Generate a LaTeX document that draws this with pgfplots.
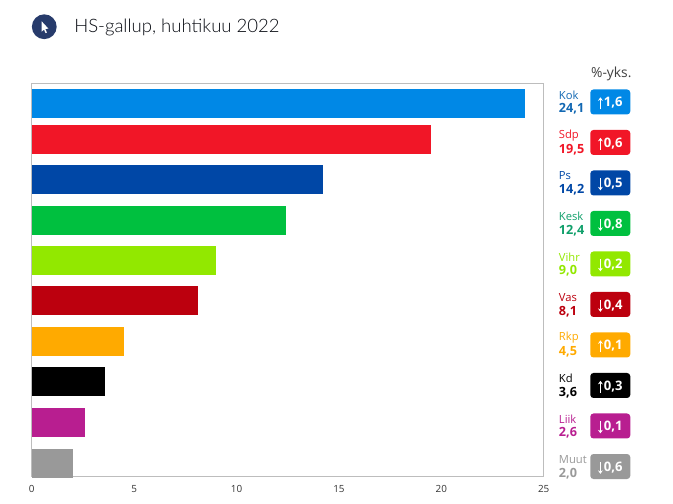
\documentclass[border=0pt]{standalone}
\usepackage{pgfplots}
\pgfplotsset{compat=1.18}
\usepackage{fontspec}
\setmainfont{Open Sans}
\newfontfamily\titlefont{Lato Light}
\usetikzlibrary{arrows.meta}

\definecolor{kok}{HTML}{0088E6}
\definecolor{koktxt}{HTML}{1268B3}
\definecolor{sdp}{HTML}{F11627}
\definecolor{ps}{HTML}{0047A6}
\definecolor{kesk}{HTML}{00C03F}
\definecolor{kesktxt}{HTML}{109F6A}
\definecolor{vihr}{HTML}{92E800}
\definecolor{vas}{HTML}{BC000E}
\definecolor{rkp}{HTML}{FFAA00}
\definecolor{kd}{HTML}{000000}
\definecolor{liik}{HTML}{B81E90}
\definecolor{muut}{HTML}{999999}
\definecolor{frame}{HTML}{BDBDBD}
\definecolor{navy}{HTML}{273B6B}

% party label + change badge next to each bar: y, badge colour, text colour, name, value, arrow, change
\newcommand{\party}[7]{%
  \node[anchor=west,inner sep=0pt,text=#3,font=\fontsize{8.4}{9}\selectfont] at (axis cs:25.73,#1+7) {#4};
  \node[anchor=west,inner sep=0pt,text=#3,font=\fontsize{9.5}{10}\bfseries\selectfont] at (axis cs:25.73,#1-7) {#5};
  \node[fill=#2,rounded corners=2.4pt,minimum width=30pt,minimum height=18.75pt,inner sep=0pt,text height=7pt,text depth=0pt,text=white,font=\fontsize{9.8}{10}\bfseries\selectfont] at (axis cs:28.25,#1) {#6\hspace{0.8pt}#7};
}
\newcommand{\up}{\tikz[baseline=2pt]\draw[white,line width=0.6pt,-{Stealth[length=2.6pt,width=3.6pt]}] (0,0)--(0,9pt);}
\newcommand{\down}{\tikz[baseline=2pt]\draw[white,line width=0.6pt,-{Stealth[length=2.6pt,width=3.6pt]}] (0,9pt)--(0,0);}

\begin{document}
\begin{tikzpicture}[x=1pt,y=1pt]
% fixes the page to the reference size
\path (0,0) rectangle (504.75,377.25);
\begin{axis}[
    at={(23.8pt,20.25pt)},
    anchor=south west,
    width=384pt,
    height=294.4pt,
    scale only axis,
    xmin=0, xmax=25,
    ymin=0, ymax=392.5,
    xtick={0,5,10,15,20,25},
    ytick=\empty,
    axis line style={frame,line width=0.75pt},
    tick style={draw=none},
    tick label style={font=\fontsize{7.4}{8}\selectfont,text=black!80},
    xticklabel style={yshift=-3.75pt},
    /pgf/number format/assume math mode=true,
    clip=false,
    bar width=21.75pt,
    xbar,
    bar shift=0pt,
]
\addplot[fill=kok,draw=none] coordinates {(24.1,372.5)};
\addplot[fill=sdp,draw=none] coordinates {(19.5,336.5)};
\addplot[fill=ps,draw=none] coordinates {(14.2,296)};
\addplot[fill=kesk,draw=none] coordinates {(12.4,255.5)};
\addplot[fill=vihr,draw=none] coordinates {(9.0,215)};
\addplot[fill=vas,draw=none] coordinates {(8.1,175)};
\addplot[fill=rkp,draw=none] coordinates {(4.5,134.5)};
\addplot[fill=kd,draw=none] coordinates {(3.6,94)};
\addplot[fill=liik,draw=none] coordinates {(2.6,53.5)};
\addplot[fill=muut,draw=none] coordinates {(2.0,13)};

\node[inner sep=0pt,font=\fontsize{10.4}{11}\selectfont,text=black!75] at (axis cs:28.3,402) {\%-yks.};
\party{374}{kok}{koktxt}{Kok}{24,1}{\up}{1,6}
\party{333.5}{sdp}{sdp}{Sdp}{19,5}{\up}{0,6}
\party{293}{ps}{ps}{Ps}{14,2}{\down}{0,5}
\party{252.5}{kesk}{kesktxt}{Kesk}{12,4}{\down}{0,8}
\party{212}{vihr}{vihr}{Vihr}{9,0}{\down}{0,2}
\party{171.5}{vas}{vas}{Vas}{8,1}{\down}{0,4}
\party{131}{rkp}{rkp}{Rkp}{4,5}{\up}{0,1}
\party{90.5}{kd}{kd}{Kd}{3,6}{\up}{0,3}
\party{50}{liik}{liik}{Liik}{2,6}{\down}{0,1}
\party{9.5}{muut}{muut}{Muut}{2,0}{\down}{0,6}
\end{axis}
% title and the round icon
\fill[navy] (33.2,357.2) circle (9.3pt);
\fill[white] (31.3,361.2) -- (31.3,353.6) -- (33,355) -- (34.2,352.4) -- (35.2,352.9) -- (34,355.5) -- (36.3,355.8) -- cycle;
\node[anchor=west,inner sep=0pt,font=\titlefont\fontsize{13.9}{16}\selectfont,text=black!85!navy] at (55.5,357) {HS-gallup, huhtikuu 2022};
\end{tikzpicture}
\end{document}
